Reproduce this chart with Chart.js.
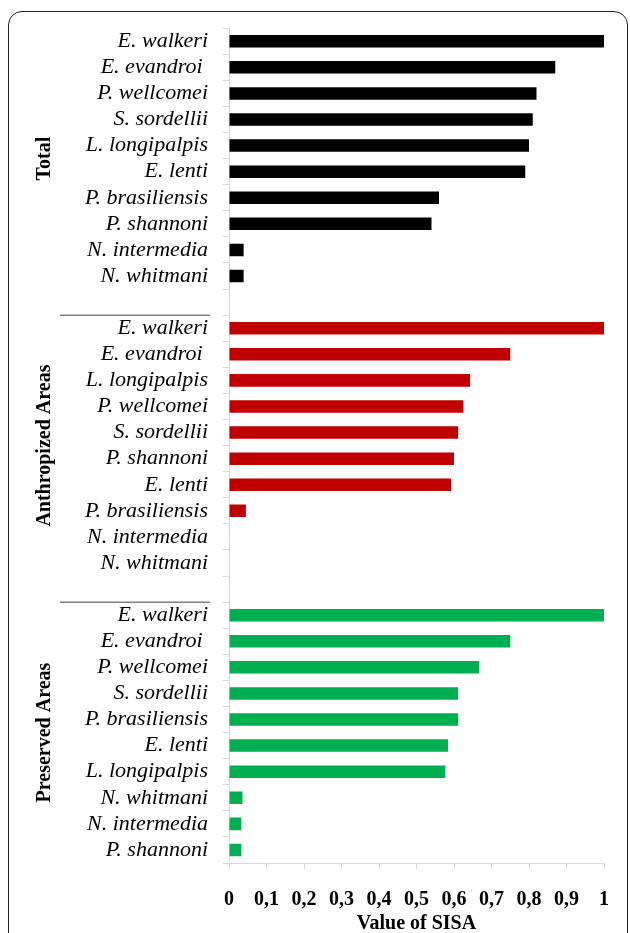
<!DOCTYPE html>
<html>
<head>
<meta charset="utf-8">
<script src="https://cdn.jsdelivr.net/npm/chart.js@4.4.1/dist/chart.umd.min.js"></script>
<style>
  html, body { margin: 0; padding: 0; background: #fff; }
  #wrap { position: relative; width: 630px; height: 933px; overflow: hidden; }
  #frame { position: absolute; left: 8px; top: 11px; width: 620px; height: 1000px;
           border: 1.6px solid #222; border-radius: 14px; box-sizing: border-box; }
  canvas { position: absolute; left: 0; top: 0; }
</style>
</head>
<body>
<div id="wrap">
  <div id="frame"></div>
  <canvas id="chart" width="630" height="933"></canvas>
</div>
<script>
// SISA values per sand fly species, by sampling area
const totalSpecies = ['E. walkeri', 'E. evandroi ', 'P. wellcomei', 'S. sordellii', 'L. longipalpis',
                      'E. lenti', 'P. brasiliensis', 'P. shannoni', 'N. intermedia', 'N. whitmani'];
const totalValues = [1.0, 0.87, 0.82, 0.81, 0.80, 0.79, 0.56, 0.54, 0.039, 0.039];

const anthropizedSpecies = ['E. walkeri', 'E. evandroi ', 'L. longipalpis', 'P. wellcomei', 'S. sordellii',
                            'P. shannoni', 'E. lenti', 'P. brasiliensis', 'N. intermedia', 'N. whitmani'];
const anthropizedValues = [1.0, 0.75, 0.643, 0.625, 0.611, 0.60, 0.592, 0.045, 0, 0];

const preservedSpecies = ['E. walkeri', 'E. evandroi ', 'P. wellcomei', 'S. sordellii', 'P. brasiliensis',
                          'E. lenti', 'L. longipalpis', 'N. whitmani', 'N. intermedia', 'P. shannoni'];
const preservedValues = [1.0, 0.75, 0.667, 0.611, 0.611, 0.584, 0.577, 0.036, 0.033, 0.033];

const groupNames = ['Total', 'Anthropized Areas', 'Preserved Areas'];
const groupColors = ['#000000', '#C00000', '#00B050'];

const xTickLabels = ['0', '0,1', '0,2', '0,3', '0,4', '0,5', '0,6', '0,7', '0,8', '0,9', '1'];
const xTitle = 'Value of SISA';

// One category row per species, with an empty row separating the groups
const groups = [
  { species: totalSpecies, values: totalValues },
  { species: anthropizedSpecies, values: anthropizedValues },
  { species: preservedSpecies, values: preservedValues }
];
const labels = [];
const values = [];
const colors = [];
const groupRanges = [];
groups.forEach((g, gi) => {
  if (gi > 0) { labels.push(''); values.push(null); colors.push('#fff'); }
  const start = labels.length;
  g.species.forEach((s, i) => {
    labels.push(s);
    values.push(g.values[i]);
    colors.push(groupColors[gi]);
  });
  groupRanges.push([start, labels.length - 1]);
});

const SERIF = '"Liberation Serif", "Times New Roman", serif';

// Rotated group titles and the rules between groups, placed from the category scale
const groupLabelPlugin = {
  id: 'groupLabels',
  afterDraw(chart) {
    const { ctx } = chart;
    const y = chart.scales.y;
    ctx.save();
    groupRanges.forEach((r, gi) => {
      const yc = (y.getPixelForValue(r[0]) + y.getPixelForValue(r[1])) / 2;
      ctx.save();
      ctx.translate(45, yc);
      ctx.rotate(-Math.PI / 2);
      ctx.font = 'bold 20px ' + SERIF;
      ctx.fillStyle = '#000';
      ctx.textAlign = 'center';
      ctx.textBaseline = 'middle';
      ctx.fillText(groupNames[gi], 0, 0);
      ctx.restore();
      if (gi > 0) {
        const yl = (y.getPixelForValue(r[0]) + y.getPixelForValue(r[0] - 1)) / 2;
        ctx.strokeStyle = '#808080';
        ctx.lineWidth = 1.5;
        ctx.beginPath();
        ctx.moveTo(60, yl);
        ctx.lineTo(210, yl);
        ctx.stroke();
      }
    });
    ctx.restore();
  }
};

new Chart(document.getElementById('chart'), {
  type: 'bar',
  data: {
    labels: labels,
    datasets: [{
      data: values,
      backgroundColor: colors,
      borderWidth: 0,
      categoryPercentage: 1.0,
      barPercentage: 0.48
    }]
  },
  plugins: [groupLabelPlugin],
  options: {
    indexAxis: 'y',
    responsive: false,
    animation: false,
    devicePixelRatio: 1,
    layout: { padding: { left: 0, right: 26, top: 27, bottom: 0 } },
    plugins: { legend: { display: false }, tooltip: { enabled: false } },
    scales: {
      x: {
        min: 0,
        max: 1,
        ticks: {
          stepSize: 0.1,
          color: '#000',
          padding: 19,
          font: { family: SERIF, size: 20, weight: 'bold' },
          callback: (v, i) => xTickLabels[i]
        },
        grid: { drawOnChartArea: false, color: '#d9d9d9', tickLength: 6 },
        border: { color: '#d9d9d9' },
        title: {
          display: true,
          text: xTitle,
          color: '#000',
          padding: { top: 0, bottom: -3 },
          font: { family: SERIF, size: 20, weight: 'bold' }
        },
        afterFit: (s) => { s.height = 70; }
      },
      y: {
        ticks: {
          color: '#000',
          padding: 15,
          autoSkip: false,
          font: { family: SERIF, size: 22, style: 'italic' }
        },
        grid: { offset: true, drawOnChartArea: false, color: '#d9d9d9', tickLength: 6 },
        border: { color: '#d9d9d9' },
        afterFit: (s) => { s.width = 229; }
      }
    }
  }
});
</script>
</body>
</html>
